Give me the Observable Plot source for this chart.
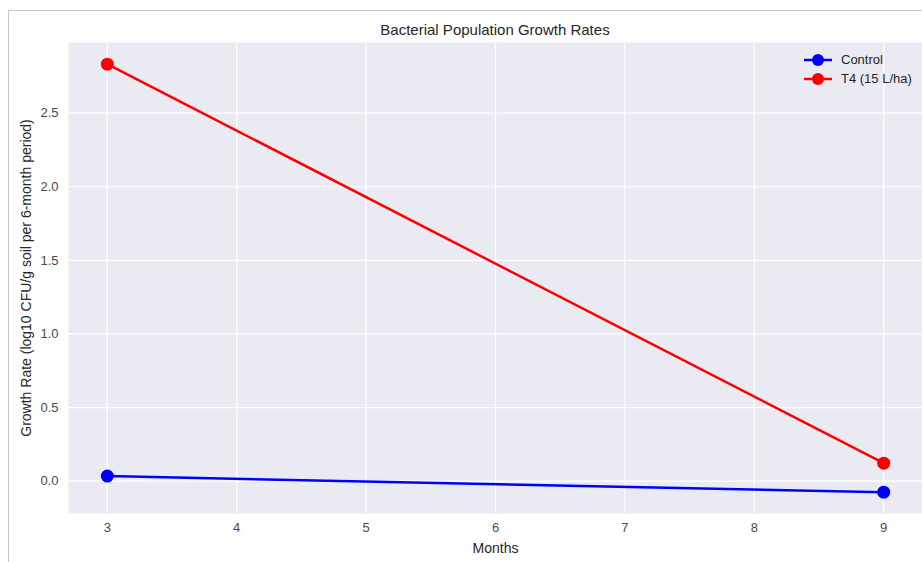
<!DOCTYPE html>
<html>
<head>
<meta charset="utf-8">
<script src="https://cdn.jsdelivr.net/npm/d3@7"></script>
<script src="https://cdn.jsdelivr.net/npm/@observablehq/plot@0.6"></script>
<style>
  html, body { margin: 0; padding: 0; background: #fff; }
  #wrap { position: relative; width: 922px; height: 562px; overflow: hidden; font-family: "Liberation Sans", Arial, sans-serif; }
  #border { position: absolute; left: 8px; top: 10px; right: -2px; bottom: -2px; border-left: 1px solid #c8c8c8; border-top: 1px solid #c8c8c8; }
  #title { position: absolute; left: 68px; width: 854px; top: 21px; text-align: center; font-size: 15px; color: #262626; }
  #legend { position: absolute; left: 803px; top: 50px; font-size: 13px; color: #262626; }
  #legend .row { display: flex; align-items: center; height: 19px; }
  #legend svg { margin-right: 8px; }
  #chart { position: absolute; left: 0; top: 0; }
</style>
</head>
<body>
<div id="wrap">
  <div id="border"></div>
  <div id="chart"></div>
  <div id="title"></div>
  <div id="legend"></div>
</div>
<script>
const titleText = "Bacterial Population Growth Rates";
const xLabel = "Months";
const yLabel = "Growth Rate (log10 CFU/g soil per 6-month period)";
const months = [3, 9];
const seriesNames = ["Control", "T4 (15 L/ha)"];
const seriesColors = ["#0000ff", "#ff0000"];
const controlValues = [0.034, -0.075];
const t4Values = [2.833, 0.122];
const xTicks = [3, 4, 5, 6, 7, 8, 9];
const yTicks = [0, 0.5, 1.0, 1.5, 2.0, 2.5];

const data = [];
months.forEach((m, i) => {
  data.push({month: m, value: controlValues[i], series: seriesNames[0]});
  data.push({month: m, value: t4Values[i], series: seriesNames[1]});
});

const chart = Plot.plot({
  width: 922,
  height: 562,
  marginLeft: 68,
  marginRight: 0,
  marginTop: 42,
  marginBottom: 49,
  style: {fontFamily: '"Liberation Sans", Arial, sans-serif', fontSize: "12px", color: "#262626", background: "transparent"},
  x: {domain: [2.7, 9.3]},
  y: {domain: [-0.22, 2.98]},
  color: {domain: seriesNames, range: seriesColors},
  marks: [
    Plot.frame({fill: "#EAEAF2", stroke: null}),
    Plot.gridX(xTicks, {stroke: "white", strokeOpacity: 1, strokeWidth: 1.2}),
    Plot.gridY(yTicks, {stroke: "white", strokeOpacity: 1, strokeWidth: 1.2}),
    Plot.axisX(xTicks, {tickSize: 0, tickPadding: 9, tickFormat: d => String(d), fill: "#4a4a4a", fontSize: 13, label: xLabel, labelAnchor: "center", labelArrow: "none", labelOffset: 39}),
    Plot.axisY(yTicks, {tickSize: 0, tickPadding: 10, tickFormat: d3.format(".1f"), fill: "#4a4a4a", fontSize: 13, label: yLabel, labelAnchor: "center", labelArrow: "none", labelOffset: 47}),
    Plot.line(data, {x: "month", y: "value", z: "series", stroke: "series", strokeWidth: 2.5}),
    Plot.dot(data, {x: "month", y: "value", fill: "series", r: 6.5, stroke: null})
  ]
});
chart.querySelectorAll("g[aria-label='x-axis label'] text, g[aria-label='y-axis label'] text").forEach(t => { t.style.fontSize = "14px"; t.setAttribute("fill", "#262626"); });
document.getElementById("chart").appendChild(chart);
document.getElementById("title").textContent = titleText;

const legend = document.getElementById("legend");
seriesNames.forEach((name, i) => {
  const row = document.createElement("div");
  row.className = "row";
  row.innerHTML = `<svg width="30" height="14"><line x1="1" y1="7" x2="29" y2="7" stroke="${seriesColors[i]}" stroke-width="2.5"/><circle cx="15" cy="7" r="6" fill="${seriesColors[i]}"/></svg><span></span>`;
  row.querySelector("span").textContent = name;
  legend.appendChild(row);
});
</script>
</body>
</html>
